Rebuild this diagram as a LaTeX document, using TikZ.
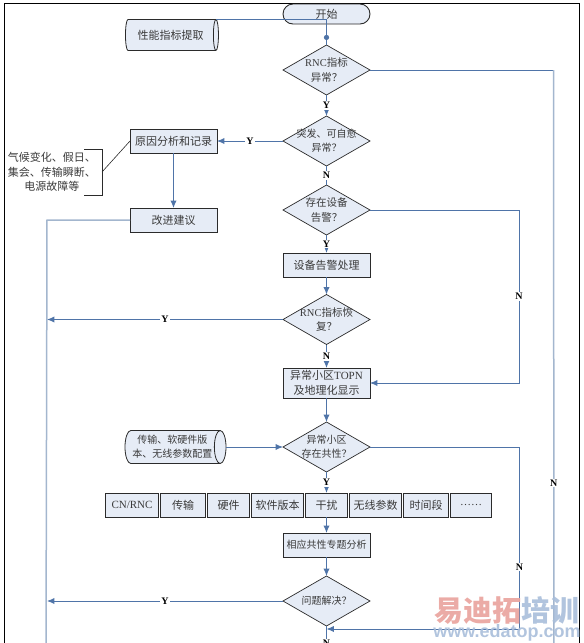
\documentclass[tikz,border=0pt]{standalone}
\usepackage{fontspec}
\setmainfont{Noto Sans CJK SC}
\newfontfamily\latinfont{Liberation Serif}
\newfontfamily\markfont{Liberation Sans}
\usepackage{xcolor}
\usetikzlibrary{arrows.meta,positioning,shapes.geometric}
\definecolor{FlowBlue}{HTML}{4F74A8}
\definecolor{RailBlue}{HTML}{A3B6CE}
\definecolor{BoxFill}{HTML}{E6ECF6}
\definecolor{BoxEdge}{HTML}{2B2B2B}
\definecolor{TextGrey}{HTML}{3A3A3A}
\definecolor{MarkRed}{HTML}{E9A29C}
\definecolor{MarkBlue}{HTML}{A9BEDA}
\newcommand{\rnc}[1]{{\latinfont #1}}
\tikzset{
  cnfont/.style={font=\fontsize{11}{14.5}\selectfont,text=TextGrey,align=center},
  cnsmall/.style={font=\fontsize{10}{14}\selectfont,text=TextGrey,align=center},
  procbox/.style={draw=BoxEdge,line width=.9pt,fill=BoxFill,cnfont,inner sep=0pt,outer sep=0pt,minimum width=87pt,minimum height=24pt},
  cellbox/.style={procbox,minimum height=24pt},
  startbox/.style={procbox,rounded corners=10pt,minimum height=20pt},
  decision/.style={diamond,draw=BoxEdge,line width=.7pt,fill=BoxFill,aspect=1.74,inner sep=0pt,outer sep=0pt,minimum width=87pt,minimum height=50pt},
  dtext/.style={cnsmall,font=\fontsize{10.5}{14.5}\selectfont,inner sep=0pt},
  datacyl/.style={cylinder,draw=BoxEdge,line width=.8pt,fill=BoxFill,cnfont,aspect=.5,inner sep=0pt,outer sep=0pt},
  flow/.style={-{Latex[length=2.6mm,width=2.2mm]},line width=.9pt,draw=FlowBlue},
  link/.style={line width=.9pt,draw=FlowBlue},
  rail/.style={line width=1.5pt,draw=RailBlue},
  flag/.style={font=\latinfont\bfseries\fontsize{10}{10}\selectfont,fill=white,inner sep=1pt,text=black},
  bigmark/.style={font=\bfseries\fontsize{29}{30}\selectfont,inner sep=0pt,text opacity=.9,text height=24pt,text depth=0pt}
}
\begin{document}
\begin{tikzpicture}[x=1pt,y=1pt,node distance=21pt and 2pt]
  \useasboundingbox (0,0) rectangle (584,-643);
  \draw[line width=.9pt] (4.5,-3.5) rectangle (579,-660);
  \node[startbox] (start) at (326.5,-14) {开始};
  \node[decision,below=of start,label={[dtext]center:\rnc{RNC}指标\\异常？}] (rncbad) {};
  \node[decision,below=of rncbad,label={[dtext,cnsmall]center:突发、可自愈\\异常？}] (burst) {};
  \node[decision,below=19pt of burst,label={[dtext]center:存在设备\\告警？}] (alarm) {};
  \node[procbox,below=18pt of alarm] (fix) {设备告警处理};
  \node[decision,below=17.5pt of fix,label={[dtext]center:\rnc{RNC}指标恢\\复？}] (recover) {};
  \node[procbox,below=23.5pt of recover,minimum height=30pt] (topn) {异常小区\rnc{TOPN}\\及地理化显示};
  \node[decision,below=24pt of topn,label={[dtext,cnsmall]center:异常小区\\存在共性？}] (common) {};
  \node[cellbox,below=of common,minimum width=42pt] (noise) {干扰};
  \node[cellbox,left=of noise,minimum width=52pt] (softver) {软件版本};
  \node[cellbox,left=of softver,minimum width=42pt] (hardware) {硬件};
  \node[cellbox,left=of hardware,minimum width=45pt] (trans) {传输};
  \node[cellbox,left=of trans,minimum width=53pt] (corenet) {\rnc{CN/RNC}};
  \node[cellbox,right=of noise,minimum width=52pt] (radio) {无线参数};
  \node[cellbox,right=of radio,minimum width=45pt] (period) {时间段};
  \node[cellbox,right=of period,minimum width=41pt] (more) {\rnc{……}};
  \node[procbox,cnsmall,below=16pt of noise] (topic) {相应共性专题分析};
  \node[decision,below=19pt of topic,label={[dtext,cnsmall]center:问题解决？}] (solved) {};
  \node[procbox,left=66pt of burst] (reason) {原因分析和记录};
  \node[procbox,below=55pt of reason] (suggest) {改进建议};
  \node[datacyl,minimum height=93pt,minimum width=31pt] (extract) at (170.5,-35) {性能指标提取};
  \node[datacyl,cnsmall,left=57pt of common,minimum height=101pt,minimum width=33pt] (config) {传输、软硬件版\\本、无线参数配置};
  \node[cnfont,inner sep=0pt] (cause) at (52,-172) {气候变化、假日、\\集会、传输瞬断、\\电源故障等};
  \coordinate[above=5pt of rncbad] (merge);
  \coordinate (braceTop) at (84,-149);
  \coordinate (braceMid) at (102,-172);
  \coordinate (braceEnd) at (84,-195);
  \coordinate[left=83pt of suggest.west] (railTop);
  \coordinate (railEnd) at (46,-660);
  \coordinate[right=149pt of alarm.east] (alarmTurn);
  \coordinate[right=149.5pt of common.east] (commonTurn);
  \coordinate[right=183.5pt of rncbad.east] (rncTurn);
  \coordinate (rncEnd) at (554,-660);
  \coordinate[below=3pt of solved.south] (joinN);
  \coordinate (downEnd) at (326.5,-660);
  \draw[link] (start) -- (rncbad);
  \draw[link,-{Circle[length=1.8mm]}] (extract.before top) -| (merge);
  \draw[flow] (rncbad) -- node[flag]{Y} (burst);
  \draw[flow] (burst) -- node[flag]{Y} (reason);
  \draw[link] (burst) -- node[flag]{N} (alarm);
  \draw[flow] (reason) -- (suggest);
  \draw[line width=.8pt,draw=BoxEdge] (braceTop) -- (braceTop -| braceMid) -- (braceEnd -| braceMid) -- (braceEnd);
  \draw[line width=.6pt,draw=BoxEdge] (braceMid) -- (reason.west);
  \draw[rail] (suggest.west) -- (railTop) -- (railEnd);
  \draw[flow] (alarm) -- node[flag]{Y} (fix);
  \draw[flow] (fix) -- (recover);
  \draw[flow] (recover) -- node[flag]{N} (topn);
  \draw[flow] (recover) -- node[flag]{Y} (recover -| railTop);
  \draw[link] (alarm.east) -- (alarmTurn);
  \draw[flow] (alarmTurn) |- node[pos=.25,flag]{N} (topn.east);
  \draw[flow] (topn) -- (common);
  \draw[flow] (config) -- (common);
  \draw[flow] (common) -- node[flag]{Y} (noise);
  \draw[flow] (noise) -- (topic);
  \draw[flow] (topic) -- (solved);
  \draw[flow] (solved) -- node[flag]{Y} (solved -| railTop);
  \draw[link] (common.east) -- (commonTurn);
  \draw[flow] (commonTurn) |- node[pos=.33,flag]{N} (joinN);
  \draw[link] (solved) -- node[pos=.4,flag,yshift=-4pt]{N} (downEnd);
  \draw[link] (rncbad.east) -- (rncTurn);
  \draw[rail] (rncTurn) -- node[pos=.7,flag]{N} (rncEnd);
  \node[bigmark,text=MarkRed] (markA) at (478,-609) {易迪拓};
  \node[bigmark,text=MarkBlue,right=0pt of markA] (markB) {培训};
  \node[font=\markfont\bfseries\fontsize{18}{18}\selectfont,text=MarkBlue,inner sep=0pt,text opacity=.9] (markC) at (507,-633) {www.edatop.com};
\end{tikzpicture}
\end{document}
